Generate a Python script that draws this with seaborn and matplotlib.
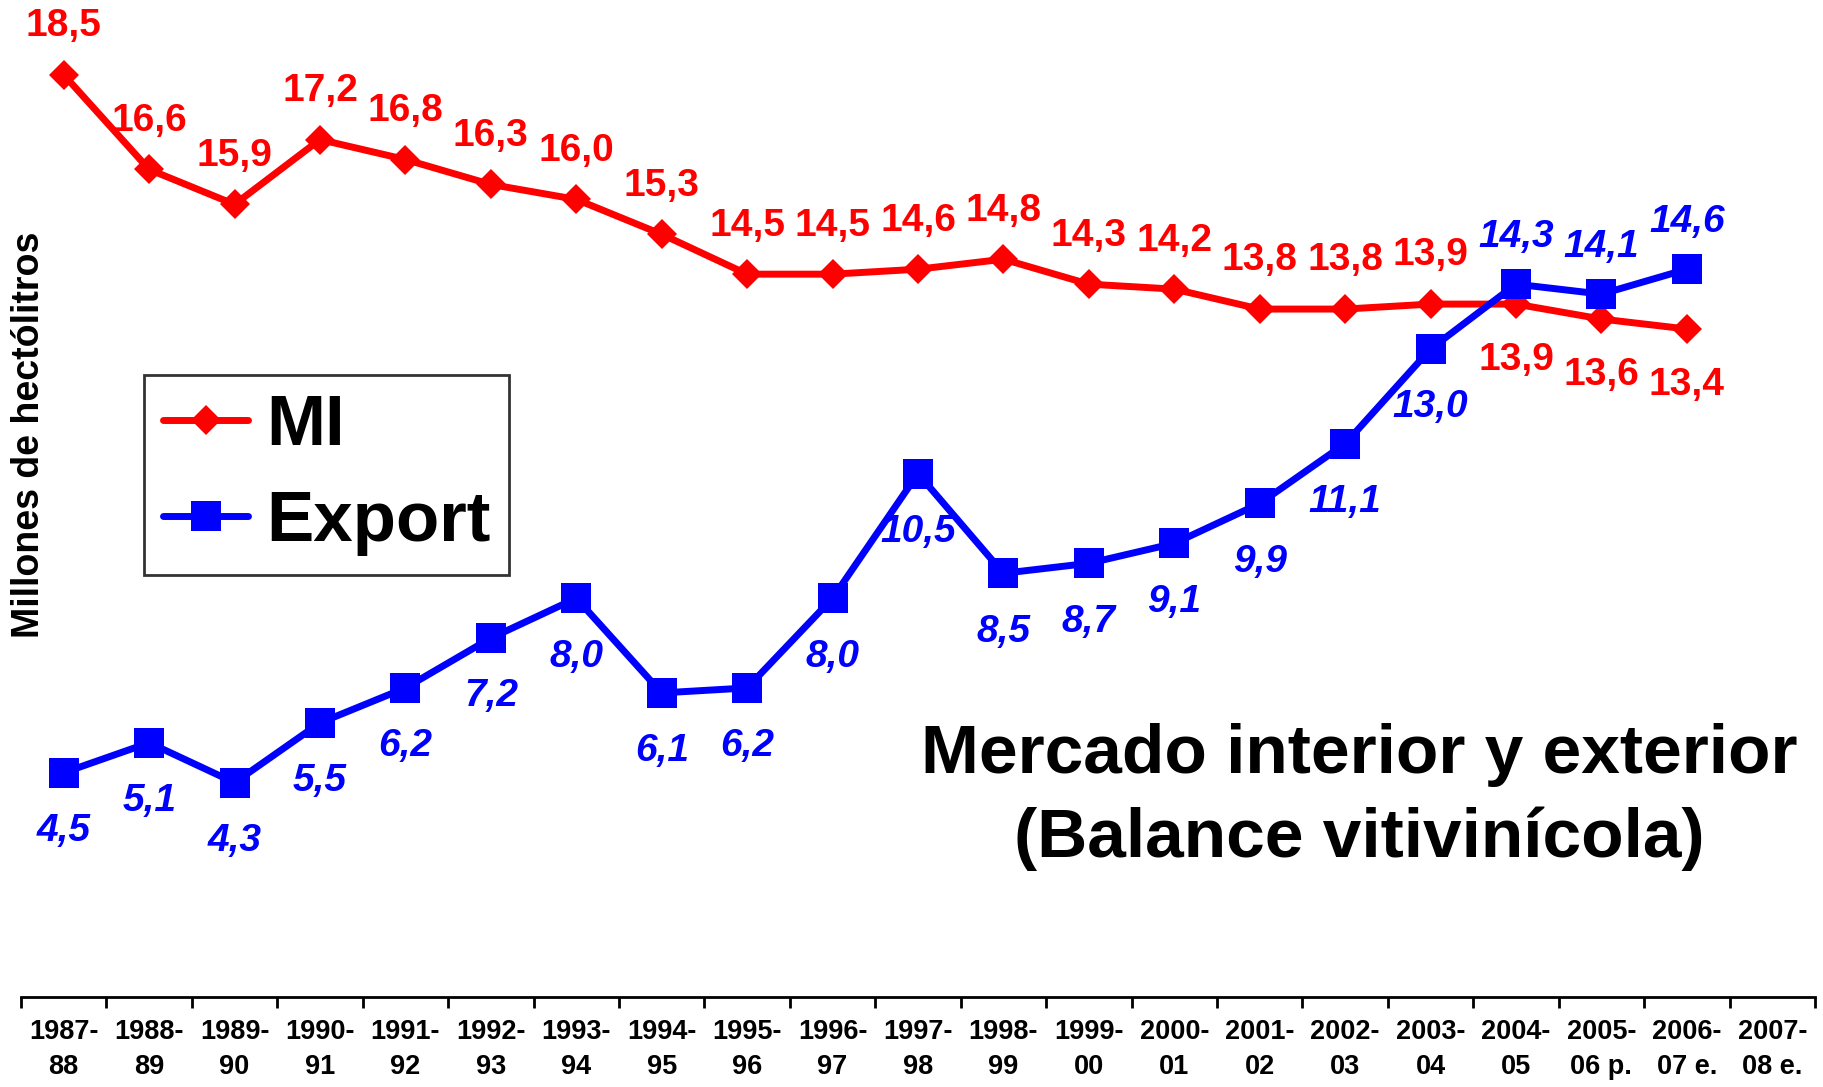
import matplotlib
matplotlib.use("Agg")
import matplotlib.pyplot as plt
import seaborn as sns
import pandas as pd
from matplotlib.lines import Line2D

categories = ["1987-\n88", "1988-\n89", "1989-\n90", "1990-\n91", "1991-\n92", "1992-\n93",
              "1993-\n94", "1994-\n95", "1995-\n96", "1996-\n97", "1997-\n98", "1998-\n99",
              "1999-\n00", "2000-\n01", "2001-\n02", "2002-\n03", "2003-\n04", "2004-\n05",
              "2005-\n06 p.", "2006-\n07 e.", "2007-\n08 e."]
mi_values = [18.5, 16.6, 15.9, 17.2, 16.8, 16.3, 16.0, 15.3, 14.5, 14.5, 14.6, 14.8,
             14.3, 14.2, 13.8, 13.8, 13.9, 13.9, 13.6, 13.4]
export_values = [4.5, 5.1, 4.3, 5.5, 6.2, 7.2, 8.0, 6.1, 6.2, 8.0, 10.5, 8.5,
                 8.7, 9.1, 9.9, 11.1, 13.0, 14.3, 14.1, 14.6]
# label placement: True = above the point
mi_above = [True] * 17 + [False] * 3
export_above = [False] * 17 + [True] * 3

sns.set_theme(style="white")
plt.rcParams['font.family'] = ['Liberation Sans', 'DejaVu Sans']
plt.rcParams['text.color'] = 'black'
plt.rcParams['xtick.color'] = 'black'
plt.rcParams['axes.labelcolor'] = 'black'

RED = "#FF0000"
BLUE = "#0000FF"

fig = plt.figure(figsize=(18.24, 10.87), dpi=100)
ax = fig.add_axes([21/1824, 90/1087, (1815-21)/1824, 997/1087])

df_mi = pd.DataFrame({"x": range(len(mi_values)), "y": mi_values})
df_ex = pd.DataFrame({"x": range(len(export_values)), "y": export_values})

sns.lineplot(data=df_mi, x="x", y="y", ax=ax, color=RED, linewidth=5, marker="D",
             markersize=15.5, markeredgewidth=0, markerfacecolor=RED)
sns.lineplot(data=df_ex, x="x", y="y", ax=ax, color=BLUE, linewidth=5, marker="s",
             markersize=21, markeredgewidth=0, markerfacecolor=BLUE)

for i, (v, up) in enumerate(zip(mi_values, mi_above)):
    off = 35 if up else -40
    ax.annotate(f"{v:.1f}".replace(".", ","), (i, v), xytext=(0, off), textcoords="offset points",
                ha="center", va="center", color=RED, fontsize=28, fontweight="bold")
for i, (v, up) in enumerate(zip(export_values, export_above)):
    off = 34 if up else -42
    ax.annotate(f"{v:.1f}".replace(".", ","), (i, v), xytext=(0, off), textcoords="offset points",
                ha="center", va="center", color=BLUE, fontsize=28, fontweight="bold",
                fontstyle="italic")

ax.set_xlim(-0.5, len(categories) - 0.5)
ax.set_ylim(0, 20)
ax.set_yticks([])
ax.set_xlabel("")
ax.set_ylabel("")
for s in ["top", "right", "left"]:
    ax.spines[s].set_visible(False)
ax.spines["bottom"].set_color("black")
ax.spines["bottom"].set_linewidth(2)

ax.set_xticks([i + 0.5 for i in range(-1, len(categories))], minor=False)
ax.set_xticklabels([])
ax.tick_params(axis="x", which="major", direction="out", length=8, width=2, color="black", bottom=True)
ax.set_xticks(range(len(categories)), minor=True)
ax.set_xticklabels(categories, minor=True, fontsize=19.5, fontweight="bold", linespacing=1.45,
                   color="black")
ax.tick_params(axis="x", which="minor", length=0, pad=16)

fig.text(29/1824, 1 - 435/1087, "Millones de hectólitros", rotation=90, ha="center", va="center",
         fontsize=27, fontweight="bold", color="black")

fig.text(1359/1824, 1 - 797/1087, "Mercado interior y exterior\n(Balance vitivinícola)",
         ha="center", va="center", fontsize=50, fontweight="bold", color="black", linespacing=1.4)

handles = [Line2D([0], [0], color=RED, lw=5, marker="D", markersize=15.5, markeredgewidth=0),
           Line2D([0], [0], color=BLUE, lw=5, marker="s", markersize=21, markeredgewidth=0)]
leg = fig.legend(handles, ["MI", "Export"], loc="upper left",
                 bbox_to_anchor=(144/1824, 1 - 375/1087), frameon=True,
                 fancybox=False, edgecolor="black", handlelength=1.2, handletextpad=0.25,
                 borderpad=0.27, labelspacing=0.42, borderaxespad=0,
                 prop={"weight": "bold", "size": 51})
for t in leg.get_texts():
    t.set_color("black")
leg.get_frame().set_linewidth(2)

fig.savefig("out.png", dpi=100)
